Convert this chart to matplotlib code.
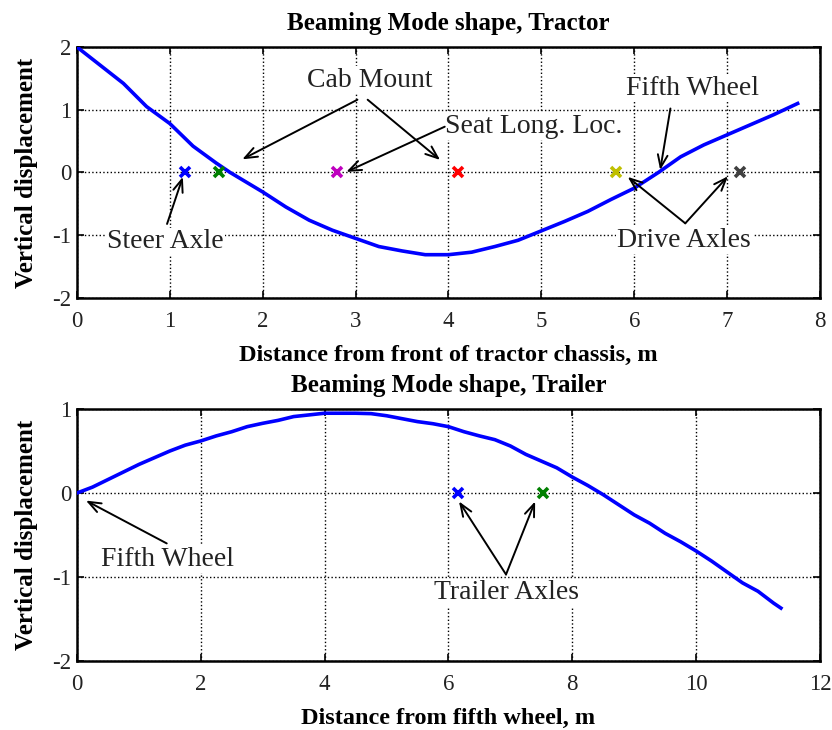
import numpy as np
import matplotlib
matplotlib.use("Agg")
import matplotlib.pyplot as plt

plt.rcParams['font.family'] = ['Liberation Serif', 'DejaVu Serif']
plt.rcParams['axes.unicode_minus'] = False

# tractor beaming mode shape
tractor_x = [0.0, 0.25, 0.5, 0.75, 1.0, 1.25, 1.5, 1.65, 2.0, 2.25, 2.5, 2.75, 3.0, 3.25,
             3.5, 3.75, 4.0, 4.25, 4.5, 4.75, 5.0, 5.25, 5.5, 5.75, 6.0, 6.26, 6.5, 6.75,
             7.0, 7.25, 7.5, 7.76]
tractor_y = [2.0, 1.71, 1.42, 1.05, 0.78, 0.42, 0.15, 0.0, -0.31, -0.55, -0.76, -0.92, -1.05, -1.18,
             -1.25, -1.31, -1.31, -1.27, -1.18, -1.08, -0.93, -0.78, -0.62, -0.43, -0.25, 0.0, 0.25, 0.44,
             0.60, 0.76, 0.92, 1.10]
tractor_pts = [1.16, 1.53, 2.80, 4.10, 5.80, 7.14]
tractor_cols = ['b', (0, 0.5, 0), 'm', 'r', (0.75, 0.75, 0), (0.25, 0.25, 0.25)]

# trailer beaming mode shape
trailer_x = [0.0, 0.25, 0.5, 0.75, 1.0, 1.25, 1.5, 1.75, 2.0, 2.25, 2.5, 2.75, 3.0, 3.25,
             3.5, 3.75, 4.0, 4.25, 4.5, 4.75, 5.0, 5.5, 5.75, 6.0, 6.25, 6.5, 6.75, 7.0,
             7.25, 7.5, 7.75, 8.0, 8.25, 8.5, 8.75, 9.0, 9.25, 9.5, 9.75, 10.0, 10.25,
             10.5, 10.75, 11.0, 11.25, 11.37]
trailer_y = [0.0, 0.07, 0.16, 0.25, 0.34, 0.42, 0.50, 0.57, 0.62, 0.68, 0.73, 0.79, 0.83, 0.865,
             0.91, 0.93, 0.95, 0.95, 0.95, 0.945, 0.92, 0.85, 0.825, 0.79, 0.73, 0.68, 0.635, 0.56,
             0.46, 0.38, 0.30, 0.19, 0.09, -0.02, -0.14, -0.26, -0.36, -0.48, -0.58, -0.69, -0.81,
             -0.94, -1.07, -1.17, -1.31, -1.37]
trailer_pts = [6.15, 7.53]
trailer_cols = ['b', (0, 0.5, 0)]

txtc = '#222222'
arrow = dict(arrowstyle='->,head_length=0.9,head_width=0.35', color='k', lw=1.4,
             shrinkA=0, shrinkB=0)
box = dict(facecolor='white', edgecolor='none', pad=1)


def style_axes(ax):
    ax.grid(True, color='k', linestyle=':', linewidth=1.0)
    ax.tick_params(direction='in', length=5, width=1.2, top=True, right=True,
                   labelsize=16.5, colors='k', labelcolor=txtc)
    ax.tick_params(axis='x', pad=9.5)
    ax.tick_params(axis='y', pad=4)
    for s in ax.spines.values():
        s.set_linewidth(1.8)


def note(ax, text, xy, xytext, tip):
    ax.text(xytext[0], xytext[1], text, fontsize=20, color=txtc, ha='center',
            va='center', bbox=box, zorder=4)
    for t in tip:
        ax.annotate('', xy=t, xytext=xy, arrowprops=arrow, zorder=5)


fig = plt.figure(figsize=(8.32, 7.30), dpi=100)
ax1 = fig.add_axes([0.0925, 0.5918, 0.893, 0.3438])
ax2 = fig.add_axes([0.0925, 0.0945, 0.893, 0.3452])

# top: tractor
ax1.plot(tractor_x, tractor_y, color='b', lw=2.6, zorder=3)
for p, c in zip(tractor_pts, tractor_cols):
    ax1.plot(p, 0, 'x', color=c, ms=7, mew=2.6, zorder=3)
ax1.set_xlim(0, 8)
ax1.set_ylim(-2, 2)
ax1.set_xticks(range(0, 9))
ax1.set_yticks([-2, -1, 0, 1, 2])
style_axes(ax1)
ax1.set_title('Beaming Mode shape, Tractor', fontsize=18, fontweight='bold', pad=12)
ax1.set_xlabel('Distance from front of tractor chassis, m', fontsize=17.5, fontweight='bold', labelpad=9)
ax1.set_ylabel('Vertical displacement', fontsize=18, fontweight='bold', labelpad=10)

note(ax1, 'Cab Mount', (3.02, 1.16), (3.15, 1.47), [])
ax1.annotate('', xy=(1.78, 0.21), xytext=(3.02, 1.16), arrowprops=arrow, zorder=5)
ax1.annotate('', xy=(3.91, 0.20), xytext=(3.13, 1.16), arrowprops=arrow, zorder=5)
note(ax1, 'Seat Long. Loc.', (3.96, 0.73), (4.92, 0.74), [(2.90, 0.01)])
note(ax1, 'Fifth Wheel', (6.39, 1.02), (6.63, 1.34), [(6.28, 0.04)])
note(ax1, 'Drive Axles', (6.55, -0.81), (6.54, -1.08), [(5.93, -0.07), (7.01, -0.06)])
note(ax1, 'Steer Axle', (0.97, -0.82), (0.95, -1.10), [(1.14, -0.07)])

# bottom: trailer
ax2.plot(trailer_x, trailer_y, color='b', lw=2.6, zorder=3)
for p, c in zip(trailer_pts, trailer_cols):
    ax2.plot(p, 0, 'x', color=c, ms=7, mew=2.6, zorder=3)
ax2.set_xlim(0, 12)
ax2.set_ylim(-2, 1)
ax2.set_xticks(range(0, 13, 2))
ax2.set_yticks([-2, -1, 0, 1])
style_axes(ax2)
ax2.set_title('Beaming Mode shape, Trailer', fontsize=18, fontweight='bold', pad=12)
ax2.set_xlabel('Distance from fifth wheel, m', fontsize=17.5, fontweight='bold', labelpad=9)
ax2.set_ylabel('Vertical displacement', fontsize=18, fontweight='bold', labelpad=10)

note(ax2, 'Fifth Wheel', (1.45, -0.60), (1.46, -0.79), [(0.145, -0.09)])
note(ax2, 'Trailer Axles', (6.93, -0.97), (6.93, -1.19), [(6.17, -0.10), (7.40, -0.10)])

fig.savefig('out.png', dpi=100)
